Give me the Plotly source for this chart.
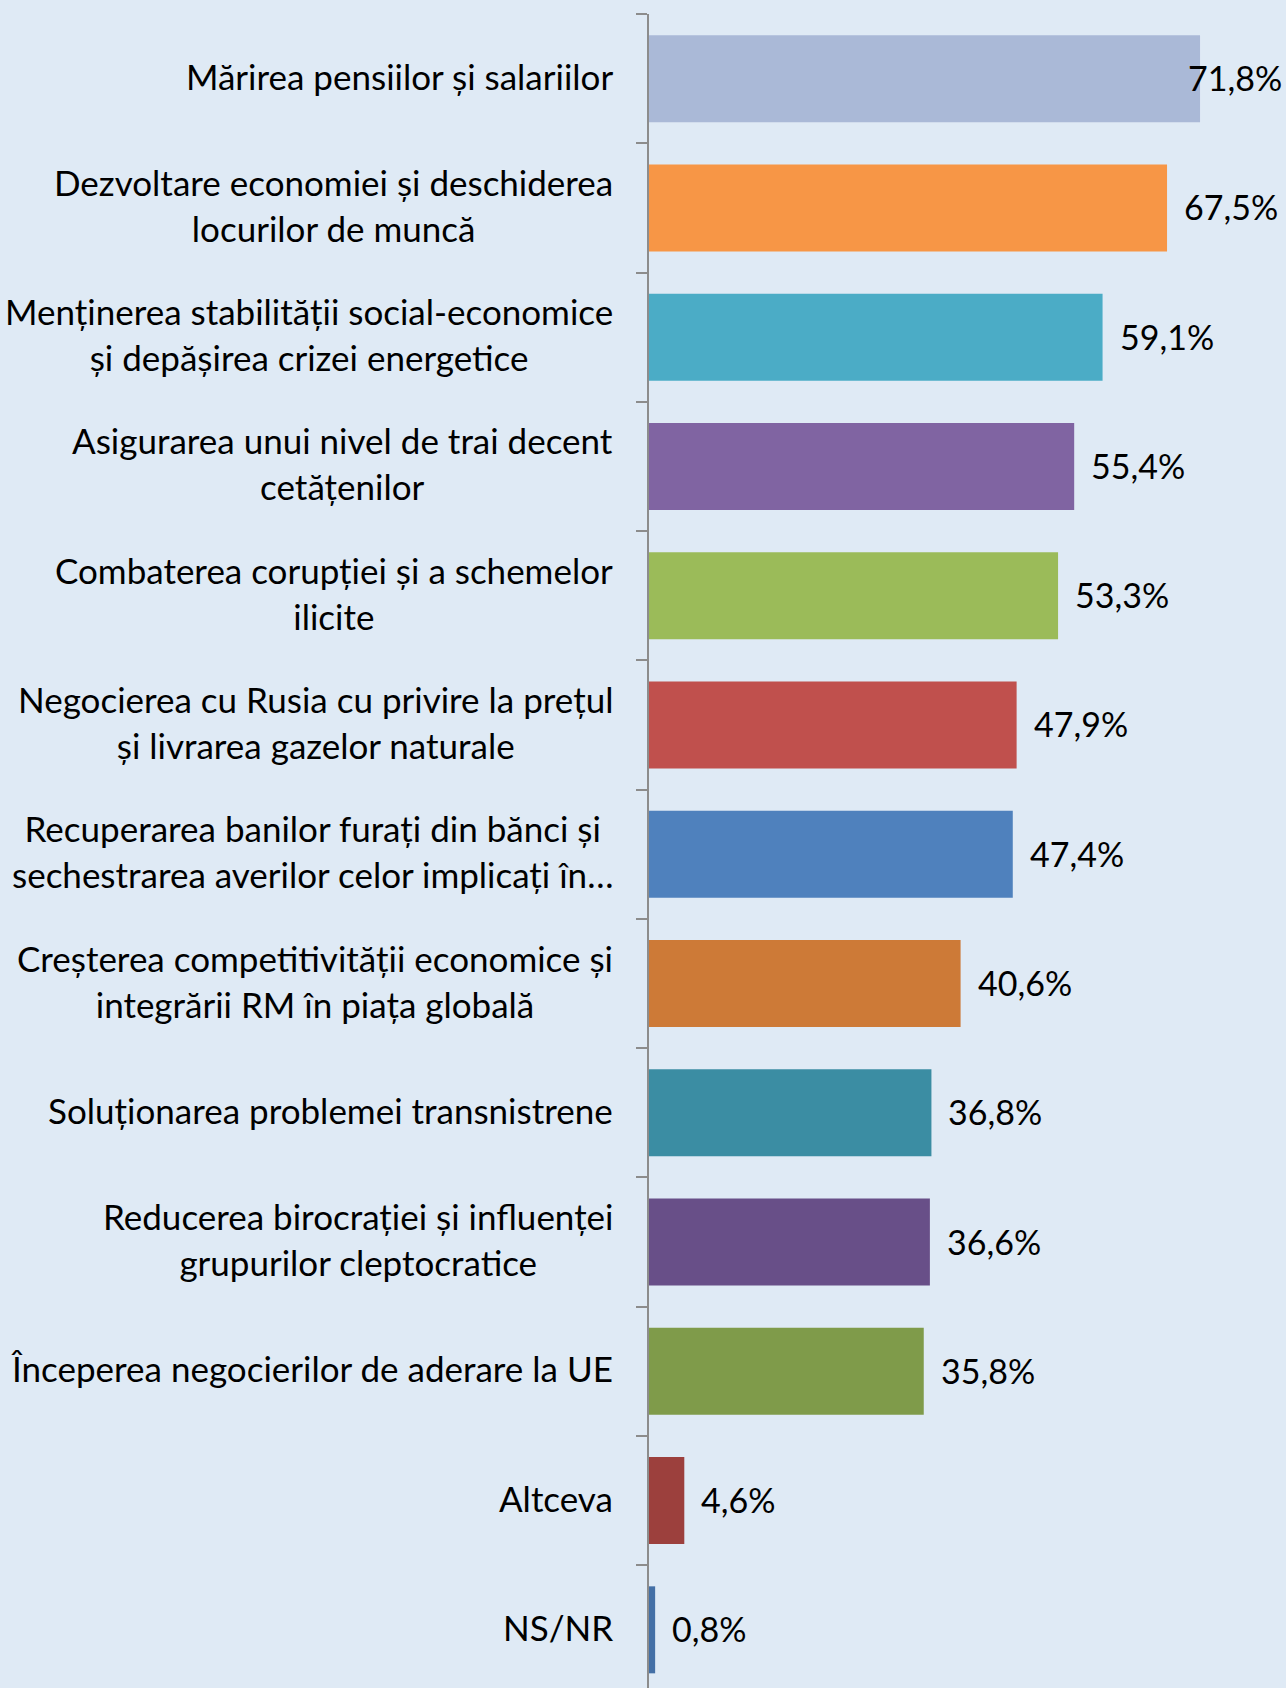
import plotly.graph_objects as go

categories = [
    "Mărirea pensiilor și salariilor",
    "Dezvoltare economiei și deschiderea<br>locurilor de muncă",
    "Menținerea stabilității social-economice<br>și depășirea crizei energetice",
    "Asigurarea unui nivel de trai decent<br>cetățenilor",
    "Combaterea corupției și a schemelor<br>ilicite",
    "Negocierea cu Rusia cu privire la prețul<br>și livrarea gazelor naturale",
    "Recuperarea banilor furați din bănci și<br>sechestrarea averilor celor implicați în…",
    "Creșterea competitivității economice și<br>integrării RM în piața globală",
    "Soluționarea problemei transnistrene",
    "Reducerea birocrației și influenței<br>grupurilor cleptocratice",
    "Începerea negocierilor de aderare la UE",
    "Altceva",
    "NS/NR",
]
values = [71.8, 67.5, 59.1, 55.4, 53.3, 47.9, 47.4, 40.6, 36.8, 36.6, 35.8, 4.6, 0.8]
colors = ["#AAB9D7", "#F79646", "#4BACC6", "#8064A2", "#9BBB59", "#C0504D", "#4F81BD",
          "#CD7A37", "#3B8DA3", "#684F88", "#7F9B4A", "#9C403D", "#4470A6"]

BG = "#DFEAF5"
FONT = "Lato"

fig = go.Figure(go.Bar(
    x=values, y=categories, orientation="h",
    marker=dict(color=colors, line=dict(width=0)),
    hoverinfo="skip",
))

annotations = []
for cat in categories:
    annotations.append(dict(
        x=0, y=cat, xref="x", yref="y", text=cat, showarrow=False,
        xanchor="right", yanchor="middle", align="center", xshift=-34, yshift=3,
        font=dict(family=FONT, size=35, color="#000000"),
    ))
for cat, v in zip(categories, values):
    label = f"{v:.1f}".replace(".", ",") + "%"
    if v > 70:
        annotations.append(dict(
            x=1, y=cat, xref="paper", yref="y", text=label, showarrow=False,
            xanchor="right", yanchor="middle", xshift=-2, yshift=1,
            font=dict(family=FONT, size=34, color="#000000"),
        ))
    else:
        annotations.append(dict(
            x=v, y=cat, xref="x", yref="y", text=label, showarrow=False,
            xanchor="left", yanchor="middle", xshift=15, yshift=1,
            font=dict(family=FONT, size=34, color="#000000"),
        ))

fig.update_layout(
    width=1286, height=1688,
    margin=dict(l=649, r=0, t=14, b=0),
    paper_bgcolor=BG, plot_bgcolor=BG,
    bargap=0.327,
    showlegend=False,
    annotations=annotations,
    xaxis=dict(range=[0, 83.0], visible=False, showgrid=False, zeroline=False),
    yaxis=dict(
        type="category",
        range=[12.45, -0.5],
        showticklabels=False,
        showline=True, linecolor="#8C8C8C", linewidth=2,
        ticks="outside", ticklen=11, tickwidth=2, tickcolor="#8C8C8C",
        tickson="boundaries",
        showgrid=False, zeroline=False,
    ),
)

fig.write_html(
    "out.html",
    config={"displayModeBar": False, "staticPlot": True},
    post_script="document.body.style.margin='0';document.body.style.overflow='hidden';"
                "document.body.style.background='" + BG + "';",
)
